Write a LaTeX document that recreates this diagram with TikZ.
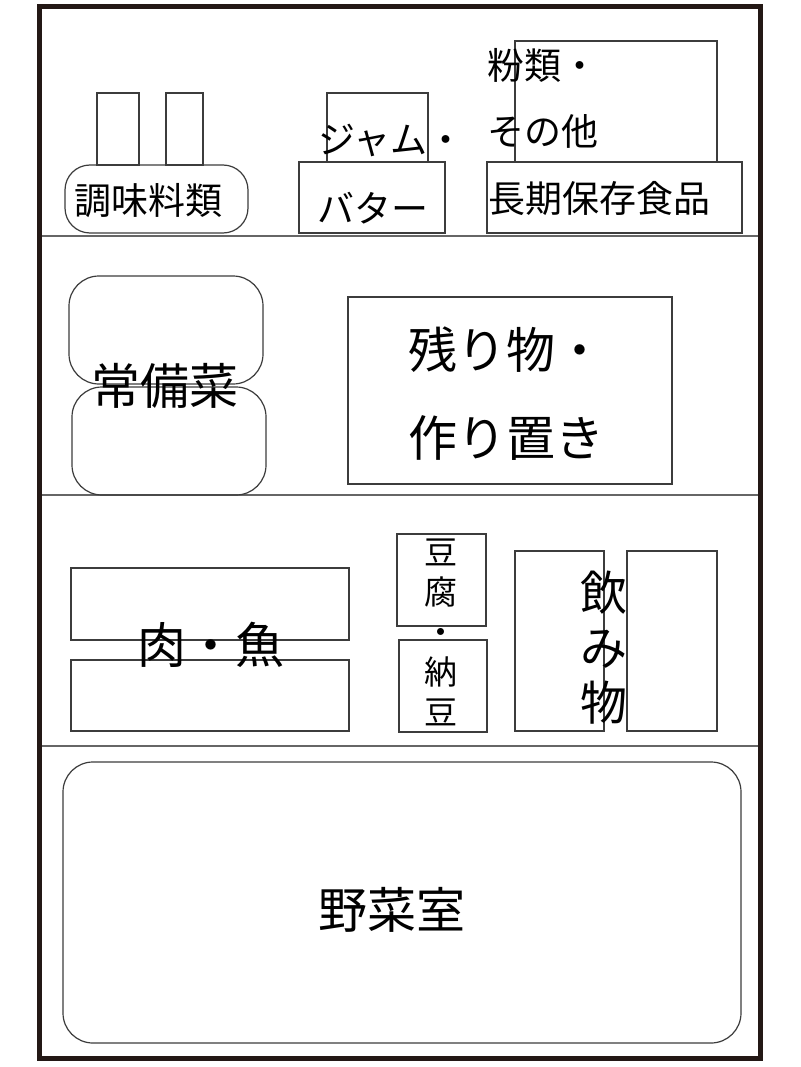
\documentclass[tikz,border=0pt]{standalone}
\usepackage{fontspec}
\newfontfamily\jp{Noto Sans CJK JP}
\definecolor{framec}{RGB}{35,24,21}
\definecolor{linec}{RGB}{60,60,60}
\begin{document}
\begin{tikzpicture}[x=1pt,y=-1pt,
  box/.style={draw=linec, line width=1.2pt},
  rbox/.style={draw=linec, line width=1.2pt, rounded corners=28pt},
  shelf/.style={draw=black!60, line width=1.4pt},
  lbl/.style={font=\jp\fontsize{37}{40}\selectfont, inner sep=0pt, text=black},
  big/.style={font=\jp\fontsize{49}{55}\selectfont, inner sep=0pt, text=black},
]
\useasboundingbox (0,0) rectangle (800,1067);
\fill[white] (0,0) rectangle (800,1067);

% shelves
\coordinate (s1l) at (39,236); \coordinate (s1r) at (760,236);
\coordinate (s2l) at (39,495); \coordinate (s2r) at (760,495);
\coordinate (s3l) at (39,746); \coordinate (s3r) at (760,746);
\draw[shelf] (s1l) -- (s1r);
\draw[shelf] (s2l) -- (s2r);
\draw[shelf] (s3l) -- (s3r);

% top shelf
\draw[box] (97,165) rectangle (139,93);
\draw[box] (166,165) rectangle (203,93);
\draw[rbox, rounded corners=25pt] (65,165) rectangle (248,233);
\draw[box] (327,93) rectangle (428,162);
\draw[box] (299,162) rectangle (445,233);
\draw[box] (515,41) rectangle (717,162);
\draw[box] (487,162) rectangle (742,233);
\node[lbl] (chomi) at (148,201) {調味料類};
\node[lbl, anchor=west] (jam) at (318,140) {ジャム・};
\node[lbl, anchor=west] (butter) at (317,208) {バター};
\node[lbl, anchor=west] (kona) at (487,65) {粉類・};
\node[lbl, anchor=west] (sonota) at (487,131) {その他};
\node[lbl, anchor=west] (choki) at (488,198) {長期保存食品};

% middle shelf
\draw[rbox, rounded corners=30pt] (69,276) rectangle (263,384);
\draw[rbox, rounded corners=30pt] (72,387) rectangle (266,495);
\draw[box] (348,297) rectangle (672,484);
\node[big] (jobi) at (165,386) {常備菜};
\node[big, anchor=west] (nokori) at (408,350) {残り物・};
\node[big, anchor=west] (tsukuri) at (408,438) {作り置き};

% lower shelf
\draw[box] (71,568) rectangle (349,640);
\draw[box] (71,660) rectangle (349,731);
\node[big] (niku) at (211,645) {肉・魚};
\draw[box] (397,534) rectangle (486,626);
\draw[box] (399,640) rectangle (487,732);
\node[font=\jp\fontsize{33}{40}\selectfont, inner sep=0pt, align=center] (tofu) at (441,632) {豆\\腐\\・\\納\\豆};
\draw[box] (515,551) rectangle (604,731);
\draw[box] (627,551) rectangle (717,731);
\node[font=\jp\fontsize{47}{55}\selectfont, inner sep=0pt, align=center] (nomi) at (604,648) {飲\\み\\物};

% vegetable drawer
\draw[rbox, rounded corners=30pt] (63,762) rectangle (741,1043);
\node[big] (yasai) at (392,910) {野菜室};

% frame
\draw[line width=5pt, draw=framec] (39,7) rectangle (760,1058);
\end{tikzpicture}
\end{document}
